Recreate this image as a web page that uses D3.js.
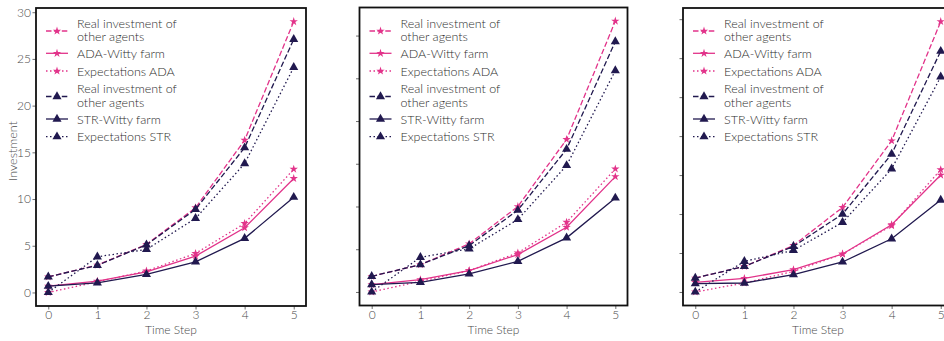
<!DOCTYPE html>
<html>
<head>
<meta charset="utf-8">
<script src="https://cdn.jsdelivr.net/npm/d3@7"></script>
<style>
  html, body { margin: 0; padding: 0; background: #fff; overflow: hidden; }
  svg { display: block; font-family: Lato, "Open Sans", sans-serif; font-weight: 300; }
</style>
</head>
<body>
<svg id="chart" width="944" height="341"></svg>
<script>
// Time steps on the x axis
const timeSteps = [0, 1, 2, 3, 4, 5];

// Left panel
const realAdaA  = [1.67, 2.93, 5.14, 9.07, 16.3, 29.0];
const adaFarmA  = [0.67, 1.21, 2.20, 3.89, 6.93, 12.2];
const expAdaA   = [0.00, 1.14, 2.30, 4.18, 7.39, 13.2];
const realStrA  = [1.67, 2.90, 5.10, 8.90, 15.5, 27.1];
const strFarmA  = [0.67, 1.03, 1.93, 3.28, 5.79, 10.2];
const expStrA   = [0.00, 3.82, 4.60, 7.93, 13.8, 24.1];

// Middle panel
const realAdaB  = [1.83, 3.20, 5.63, 10.0, 17.85, 31.7];
const adaFarmB  = [0.86, 1.44, 2.50, 4.37, 7.57, 13.5];
const expAdaB   = [0.00, 1.25, 2.50, 4.57, 8.16, 14.4];
const realStrB  = [1.83, 3.20, 5.43, 9.57, 16.7, 29.3];
const strFarmB  = [0.86, 1.13, 2.11, 3.59, 6.33, 11.0];
const expStrB   = [0.00, 4.06, 5.04, 8.48, 14.8, 25.9];

// Right panel
const realAdaC  = [1.79, 3.28, 5.97, 10.85, 19.4, 34.7];
const adaFarmC  = [1.24, 1.75, 2.86, 4.87, 8.63, 15.0];
const expAdaC   = [0.00, 1.15, 2.64, 4.87, 8.50, 15.7];
const realStrC  = [1.79, 3.28, 5.85, 10.0, 17.7, 30.9];
const strFarmC  = [1.06, 1.15, 2.22, 3.85, 6.83, 11.8];
const expStrC   = [0.00, 3.93, 5.34, 8.93, 15.8, 27.6];

// Legend labels (in drawing order)
const seriesLabels = [
  ["Real investment of", "other agents"],
  ["ADA-Witty farm"],
  ["Expectations ADA"],
  ["Real investment of", "other agents"],
  ["STR-Witty farm"],
  ["Expectations STR"]
];

const PINK = "#e2338a";
const NAVY = "#21194f";
const TEXT = "#2e2e2e";
const TICK = "#4a4a4a";

// Visual style of each series: colour, dash pattern, marker
const seriesStyles = [
  { color: PINK, dash: "5.5,2.4", marker: "star" },
  { color: PINK, dash: null,      marker: "star" },
  { color: PINK, dash: "1.5,2.5", marker: "star" },
  { color: NAVY, dash: "5.5,2.4", marker: "tri" },
  { color: NAVY, dash: null,      marker: "tri" },
  { color: NAVY, dash: "1.5,2.5", marker: "tri" }
];

const panels = [
  { series: [realAdaA, adaFarmA, expAdaA, realStrA, strFarmA, expStrA], box: [36, 306, 8, 306], yLabels: true },
  { series: [realAdaB, adaFarmB, expAdaB, realStrB, strFarmB, expStrB], box: [359.5, 627.5, 7.5, 305.5], yLabels: false },
  { series: [realAdaC, adaFarmC, expAdaC, realStrC, strFarmC, expStrC], box: [683, 953, 8, 305.5], yLabels: false }
];

const svg = d3.select("#chart");

const starSym = d3.symbol().type(d3.symbolStar).size(22);
const triSym  = d3.symbol().type(d3.symbolTriangle).size(36);
function markerPath(kind) { return kind === "star" ? starSym() : triSym(); }

panels.forEach((p, pi) => {
  const [x0, x1, y0, y1] = p.box;
  const allVals = p.series.flat();
  const lo = d3.min(allVals), hi = d3.max(allVals);
  const pad = (hi - lo) * 0.05;

  const x = d3.scaleLinear().domain([-0.25, 5.25]).range([x0, x1]);
  const y = d3.scaleLinear().domain([lo - pad, hi + pad]).range([y1, y0]);

  const g = svg.append("g");

  // the right panel runs past the window edge; keep its marks inside the frame
  const clipId = "clip" + pi;
  svg.append("clipPath").attr("id", clipId)
    .append("rect").attr("x", x0).attr("y", y0).attr("width", x1 - x0).attr("height", y1 - y0);

  // y axis ticks
  const yTicks = d3.range(0, hi + pad + 0.001, 5).filter(v => v <= hi + pad);
  const yAxis = d3.axisLeft(y).tickValues(yTicks).tickSize(3.5).tickPadding(1.5)
    .tickFormat(p.yLabels ? d3.format("d") : () => "");
  const ya = g.append("g").attr("transform", `translate(${x0},0)`).call(yAxis);
  ya.select(".domain").remove();
  ya.selectAll("line").attr("stroke", TICK).attr("stroke-width", 0.8);
  ya.selectAll("text").attr("fill", TICK).attr("font-size", 12)
    .attr("font-family", "Lato, sans-serif").attr("font-weight", 300);

  // x axis ticks
  const xAxis = d3.axisBottom(x).tickValues(timeSteps).tickSize(3.5).tickPadding(1).tickFormat(d3.format("d"));
  const xa = g.append("g").attr("transform", `translate(0,${y1})`).call(xAxis);
  xa.select(".domain").remove();
  xa.selectAll("line").attr("stroke", TICK).attr("stroke-width", 0.8);
  xa.selectAll("text").attr("fill", TICK).attr("font-size", 12)
    .attr("font-family", "Lato, sans-serif").attr("font-weight", 300);

  // axis titles
  g.append("text")
    .attr("x", (x0 + x1) / 2)
    .attr("y", 334)
    .attr("text-anchor", "middle")
    .attr("fill", TICK).attr("font-size", 12)
    .text("Time Step");

  if (p.yLabels) {
    g.append("text")
      .attr("transform", `translate(17,${(y0 + y1) / 2 - 6}) rotate(-90)`)
      .attr("text-anchor", "middle")
      .attr("fill", TICK).attr("font-size", 12.5)
      .text("Investment");
  }

  // series lines and markers
  const plot = g.append("g").attr("clip-path", `url(#${clipId})`);
  const line = d3.line().x((d, i) => x(timeSteps[i])).y(d => y(d));

  p.series.forEach((vals, si) => {
    const st = seriesStyles[si];
    plot.append("path")
      .datum(vals)
      .attr("d", line)
      .attr("fill", "none")
      .attr("stroke", st.color)
      .attr("stroke-width", 1.3)
      .attr("stroke-dasharray", st.dash);
    plot.selectAll(null)
      .data(vals)
      .enter().append("path")
      .attr("d", markerPath(st.marker))
      .attr("transform", (d, i) => `translate(${x(timeSteps[i])},${y(d)})`)
      .attr("fill", st.color);
  });

  // legend
  const lg = g.append("g");
  const handleY = [31, 53.3, 71, 96.5, 119, 136.7];
  const textY   = [[27.8, 41.2], [57.8], [75.5], [93.3, 106.7], [123.5], [141.2]];
  seriesLabels.forEach((lab, si) => {
    const st = seriesStyles[si];
    const hy = handleY[si];
    lg.append("line")
      .attr("x1", x0 + 10).attr("x2", x0 + 32)
      .attr("y1", hy).attr("y2", hy)
      .attr("stroke", st.color).attr("stroke-width", 1.3)
      .attr("stroke-dasharray", st.dash);
    lg.append("path")
      .attr("d", markerPath(st.marker))
      .attr("transform", `translate(${x0 + 21},${hy})`)
      .attr("fill", st.color);
    lab.forEach((t, li) => {
      lg.append("text")
        .attr("x", x0 + 41).attr("y", textY[si][li])
        .attr("fill", TEXT).attr("font-size", 12.5)
        .text(t);
    });
  });

  // frame
  g.append("rect")
    .attr("x", x0).attr("y", y0)
    .attr("width", x1 - x0).attr("height", y1 - y0)
    .attr("fill", "none").attr("stroke", "#111").attr("stroke-width", 1.8);
});
</script>
</body>
</html>
